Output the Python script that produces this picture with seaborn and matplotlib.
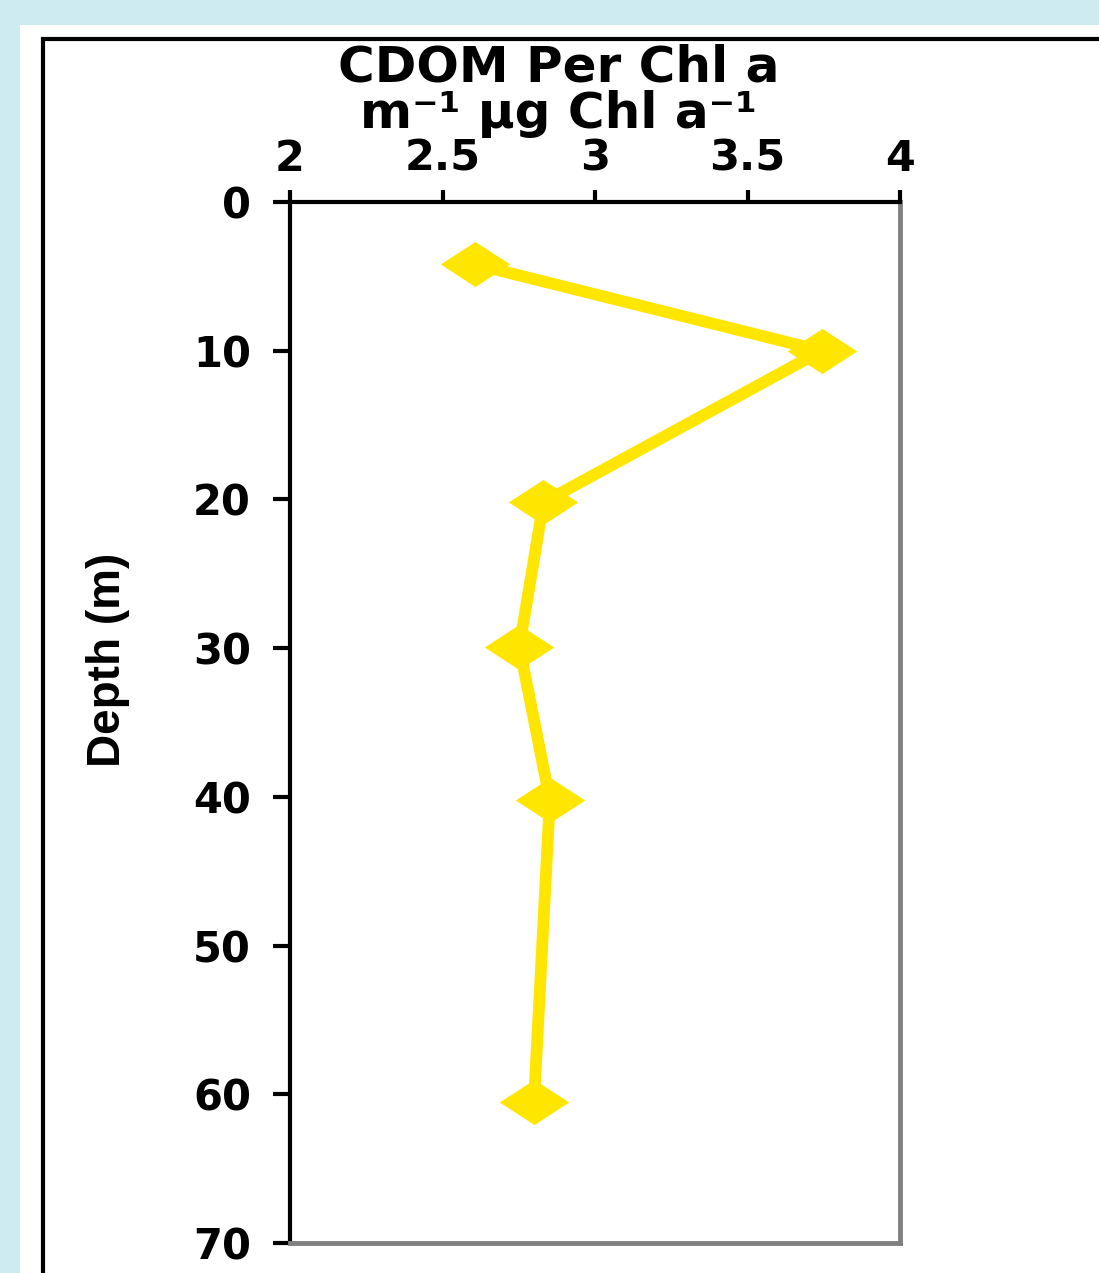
#!/usr/bin/env python3
"""CDOM per Chl a depth profile."""

import matplotlib

matplotlib.use("Agg")

import matplotlib.pyplot as plt
import pandas as pd
import seaborn as sns
from matplotlib.patches import Rectangle
from matplotlib.path import Path

# values
depth_m = [4.2, 10.0, 20.2, 29.9, 40.2, 60.5]
cdom_per_chl = [2.607, 3.743, 2.831, 2.752, 2.852, 2.80]
x_ticks = [2, 2.5, 3, 3.5, 4]
x_tick_labels = ["2", "2.5", "3", "3.5", "4"]
y_ticks = [0, 10, 20, 30, 40, 50, 60, 70]

YELLOW = "#FFE600"
CYAN = "#CDEBF0"

profile = pd.DataFrame({"depth": depth_m, "cdom": cdom_per_chl})

sns.set_theme(style="white")
plt.rcParams["font.family"] = ["DejaVu Sans"]
plt.rcParams["font.weight"] = "bold"
for key in ["text.color", "axes.labelcolor", "xtick.color", "ytick.color"]:
    plt.rcParams[key] = "black"

W, H = 1099, 1273
fig = plt.figure(figsize=(W / 100, H / 100), dpi=100)
fig.patch.set_facecolor(CYAN)

# white panel and black frame behind the chart
fig.add_artist(Rectangle((20 / W, 0), 1, 1 - 25 / H, transform=fig.transFigure,
                         facecolor="white", edgecolor="none", zorder=-2))
fig.add_artist(Rectangle((43 / W, -0.05), 1, 1 - 39 / H + 0.05, transform=fig.transFigure,
                         facecolor="none", edgecolor="black", linewidth=3, zorder=-1))

ax = fig.add_axes([290 / W, 1 - 1243 / H, 610 / W, 1041 / H])
ax.set_facecolor("white")

wide_diamond = Path([(-1, 0), (0, 0.65), (1, 0), (0, -0.65), (-1, 0)],
                    [Path.MOVETO, Path.LINETO, Path.LINETO, Path.LINETO, Path.CLOSEPOLY])

sns.lineplot(data=profile, x="cdom", y="depth", sort=False, estimator=None,
             color=YELLOW, linewidth=8.5, marker=wide_diamond, markersize=50,
             markeredgewidth=0, markerfacecolor=YELLOW, ax=ax)

ax.set_xlim(2, 4)
ax.set_ylim(70, 0)
ax.set_xticks(x_ticks)
ax.set_xticklabels(x_tick_labels)
ax.set_yticks(y_ticks)
ax.xaxis.tick_top()

for side in ["left", "top"]:
    ax.spines[side].set_color("black")
    ax.spines[side].set_linewidth(3)
for side in ["right", "bottom"]:
    ax.spines[side].set_color("#808080")
    ax.spines[side].set_linewidth(3.5)

ax.tick_params(axis="y", which="major", direction="out", length=12, width=3,
               color="black", pad=16, labelsize=30, left=True)
ax.tick_params(axis="x", which="major", direction="out", length=9, width=3,
               color="black", pad=7, labelsize=31, top=True, bottom=False)
for label in ax.get_xticklabels() + ax.get_yticklabels():
    label.set_fontweight("bold")

ax.set_xlabel("")
ax.set_ylabel("Depth (m)", fontsize=33, fontweight="bold", family=["Liberation Sans"])
ax.yaxis.set_label_coords(-0.263, 0.56)

fig.text(559 / W, 1 - 68 / H, "CDOM Per Chl a", ha="center", va="center",
         fontsize=36, fontweight="bold")
fig.text(559 / W, 1 - 114 / H, "m\u207b\u00b9 \u00b5g Chl a\u207b\u00b9", ha="center",
         va="center", fontsize=36, fontweight="bold")

fig.savefig("out.png", dpi=100, facecolor=fig.get_facecolor())
